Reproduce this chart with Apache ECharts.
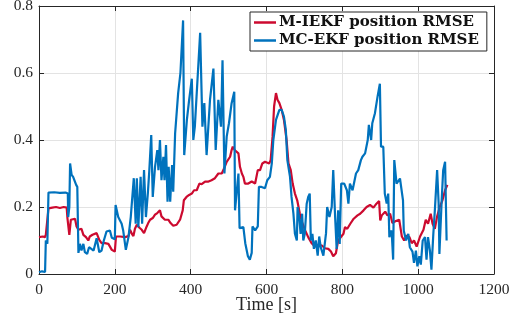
<!DOCTYPE html>
<html><head><meta charset="utf-8">
<script src="https://cdn.jsdelivr.net/npm/echarts@6/dist/echarts.min.js"></script>
<style>html,body{margin:0;padding:0;background:#fff}#c{width:519px;height:322px}</style>
</head><body><div id="c"></div>
<script>
const xTicks = [0, 200, 400, 600, 800, 1000, 1200];
const yTicks = [0, 0.2, 0.4, 0.6, 0.8];
const seriesNames = ['M-IEKF position RMSE', 'MC-EKF position RMSE'];

const redT = [0,5,10,16,18,25,35,45,55,65,73,75,77,80,84,89,95,99,104,108,112,117,124,130,134,141,146,152,159,165,174,183,192,200,203,214,227,236,240,245,249,253,258,265,271,277,284,288,293,300,306,312,319,323,332,341,347,354,363,372,379,382,389,396,403,409,416,423,429,438,447,455,464,473,482,488,495,504,508,511,516,521,526,530,535,539,543,552,561,570,577,583,589,596,600,607,611,616,620,625,629,634,640,646,653,658,664,669,675,681,688,695,702,710,719,728,737,746,754,763,770,776,783,789,794,803,807,813,821,830,840,847,856,864,873,882,890,897,900,904,913,919,926,932,941,950,957,963,970,977,983,989,996,1005,1014,1020,1026,1033,1038,1044,1050,1057,1064,1071,1077];
const redV = [0.11,0.105,0.112,0.11,0.117,0.196,0.198,0.2,0.197,0.2,0.198,0.167,0.17,0.117,0.162,0.167,0.165,0.142,0.132,0.127,0.135,0.117,0.11,0.1,0.112,0.117,0.113,0.122,0.102,0.092,0.092,0.09,0.072,0.067,0.112,0.112,0.11,0.113,0.132,0.12,0.113,0.135,0.147,0.138,0.132,0.122,0.142,0.152,0.162,0.167,0.177,0.182,0.19,0.172,0.162,0.162,0.152,0.144,0.147,0.162,0.19,0.22,0.23,0.236,0.24,0.25,0.25,0.27,0.268,0.276,0.276,0.28,0.286,0.3,0.3,0.315,0.335,0.35,0.37,0.38,0.37,0.375,0.36,0.32,0.3,0.29,0.27,0.27,0.276,0.27,0.31,0.31,0.33,0.335,0.33,0.33,0.34,0.41,0.5,0.54,0.52,0.51,0.49,0.46,0.4,0.33,0.31,0.27,0.24,0.22,0.18,0.15,0.13,0.11,0.092,0.082,0.087,0.085,0.077,0.075,0.067,0.053,0.062,0.1,0.102,0.12,0.14,0.135,0.15,0.165,0.175,0.18,0.19,0.2,0.206,0.198,0.21,0.218,0.16,0.175,0.186,0.175,0.18,0.152,0.158,0.162,0.112,0.1,0.115,0.11,0.092,0.1,0.082,0.112,0.132,0.162,0.15,0.18,0.15,0.135,0.172,0.2,0.22,0.25,0.266];

const blueT = [0,8,16,18,22,25,40,55,70,76,77,80,82,86,90,95,98,101,104,108,112,117,121,127,132,138,144,152,159,165,171,178,187,192,200,202,209,218,222,229,236,242,250,255,258,262,268,272,277,282,287,291,296,300,306,312,315,319,323,328,331,335,339,342,346,351,354,359,367,373,380,383,390,396,403,407,411,418,425,431,436,442,451,460,466,473,480,484,489,495,501,508,515,517,521,526,529,533,539,544,551,556,561,563,570,577,580,587,596,602,609,614,618,625,634,640,646,651,655,662,666,671,675,680,682,687,690,694,697,701,706,710,714,717,721,725,730,735,739,743,750,757,760,766,772,776,781,785,789,793,797,805,812,816,820,827,836,842,849,853,860,867,870,876,879,886,893,899,902,908,912,917,921,924,930,934,937,943,952,956,960,962,968,974,978,985,989,994,998,1003,1007,1012,1018,1022,1026,1031,1035,1040,1044,1050,1054,1056,1062,1066,1071,1073,1075];
const blueV = [0.005,0.008,0.006,0.1,0.09,0.243,0.244,0.242,0.243,0.24,0.17,0.2,0.33,0.296,0.29,0.29,0.266,0.26,0.063,0.09,0.07,0.09,0.065,0.06,0.08,0.075,0.07,0.107,0.065,0.07,0.1,0.127,0.13,0.108,0.104,0.206,0.17,0.15,0.13,0.072,0.11,0.17,0.286,0.15,0.286,0.14,0.29,0.15,0.31,0.17,0.24,0.31,0.415,0.23,0.32,0.37,0.31,0.4,0.28,0.35,0.28,0.385,0.216,0.32,0.216,0.325,0.246,0.42,0.54,0.6,0.757,0.355,0.46,0.52,0.583,0.4,0.44,0.58,0.72,0.44,0.51,0.355,0.52,0.613,0.37,0.52,0.44,0.638,0.3,0.41,0.45,0.51,0.544,0.19,0.24,0.3,0.137,0.135,0.14,0.092,0.053,0.043,0.063,0.142,0.13,0.142,0.26,0.26,0.256,0.28,0.29,0.33,0.4,0.46,0.49,0.49,0.47,0.43,0.34,0.29,0.23,0.18,0.12,0.1,0.2,0.16,0.12,0.18,0.1,0.12,0.21,0.23,0.24,0.1,0.12,0.075,0.1,0.055,0.112,0.08,0.055,0.122,0.2,0.17,0.2,0.31,0.17,0.075,0.19,0.09,0.27,0.27,0.25,0.21,0.27,0.25,0.3,0.31,0.34,0.35,0.36,0.4,0.445,0.4,0.45,0.48,0.53,0.568,0.38,0.38,0.24,0.21,0.24,0.11,0.13,0.043,0.34,0.27,0.285,0.28,0.22,0.13,0.1,0.12,0.08,0.067,0.033,0.07,0.023,0.053,0.028,0.1,0.11,0.043,0.11,0.07,0.013,0.12,0.19,0.31,0.21,0.06,0.22,0.31,0.335,0.34,0.1];

const RED = '#cc0a2f', BLUE = '#0072bd', AX = '#262626';
const tickFont = {fontFamily: 'Liberation Serif', fontSize: 15.5, color: AX};

function xAxisBase(pos, labels) {
  return {
    type: 'value', position: pos, min: 0, max: 1200, interval: 200,
    axisLine: {show: true, onZero: false, lineStyle: {color: AX, width: 1}},
    axisTick: {show: true, inside: true, length: 5, lineStyle: {color: AX}},
    axisLabel: Object.assign({show: labels, margin: 8, formatter: v => String(v)}, tickFont),
    splitLine: {show: labels, lineStyle: {color: '#e3e3e3', width: 1}}
  };
}
function yAxisBase(pos, labels) {
  return {
    type: 'value', position: pos, min: 0, max: 0.8, interval: 0.2,
    axisLine: {show: true, onZero: false, lineStyle: {color: AX, width: 1}},
    axisTick: {show: true, inside: true, length: 5, lineStyle: {color: AX}},
    axisLabel: Object.assign({show: labels, margin: 6,
      formatter: v => (Math.round(v * 10) / 10).toString()}, tickFont),
    splitLine: {show: labels, lineStyle: {color: '#e3e3e3', width: 1}}
  };
}

const xb = xAxisBase('bottom', true);
xb.name = 'Time [s]';
xb.nameLocation = 'middle';
xb.nameGap = 22;
xb.nameMoveOverlap = false;
xb.nameTextStyle = {fontFamily: 'Liberation Serif', fontSize: 18, color: AX, verticalAlign: 'top'};

const chart = echarts.init(document.getElementById('c'), null, {renderer: 'canvas'});
chart.setOption({
  animation: false,
  backgroundColor: '#fff',
  grid: {left: 39, right: 25, top: 6, bottom: 48, containLabel: false, outerBoundsMode: 'none'},
  xAxis: [xb, xAxisBase('top', false)],
  yAxis: [yAxisBase('left', true), yAxisBase('right', false)],
  legend: {
    data: seriesNames.map(n => ({name: n, icon: 'rect'})),
    orient: 'vertical', left: 250, top: 12,
    itemWidth: 22, itemHeight: 2.5, itemGap: 3,
    padding: [3, 8, 3, 4],
    borderColor: AX, borderWidth: 1, backgroundColor: '#fff',
    textStyle: {fontFamily: 'DejaVu Serif', fontWeight: 'bold', fontSize: 15, color: '#111', padding: [0, 0, 0, -2]}
  },
  series: [
    {name: seriesNames[0], type: 'line', showSymbol: false, symbol: 'none',
     xAxisIndex: 0, yAxisIndex: 0,
     data: redT.map((t, i) => [t, redV[i]]),
     lineStyle: {color: RED, width: 2.2}, itemStyle: {color: RED}},
    {name: seriesNames[1], type: 'line', showSymbol: false, symbol: 'none',
     xAxisIndex: 0, yAxisIndex: 0,
     data: blueT.map((t, i) => [t, blueV[i]]),
     lineStyle: {color: BLUE, width: 2.2}, itemStyle: {color: BLUE}}
  ]
});
</script></body></html>
